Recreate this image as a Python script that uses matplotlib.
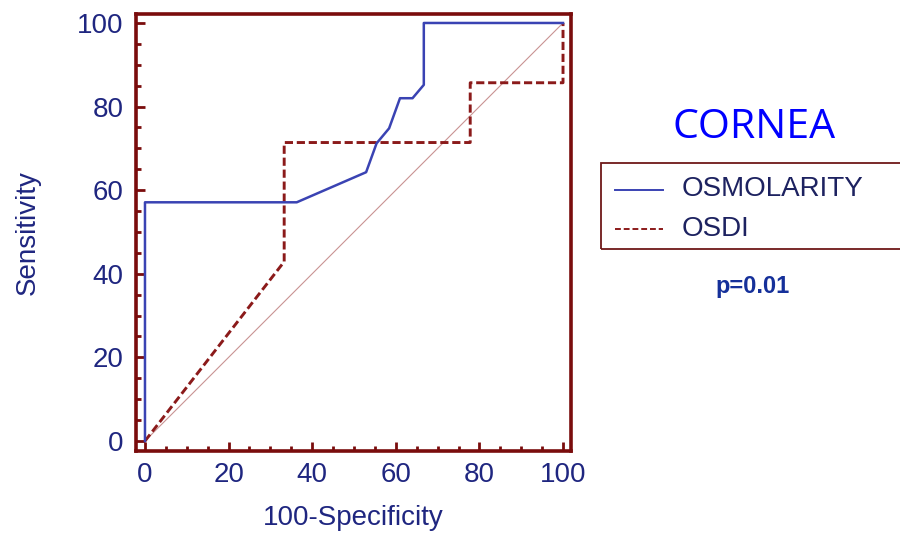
import matplotlib
matplotlib.use("Agg")
import matplotlib.pyplot as plt
from matplotlib.patches import Rectangle
from matplotlib.lines import Line2D

# ROC curve coordinates (100-Specificity, Sensitivity)
osm_fpr = [0, 0, 36.3, 52.9, 55.4, 58.4, 61.0, 64.0, 66.7, 66.7, 100]
osm_tpr = [0, 57.1, 57.1, 64.3, 71.2, 74.8, 82.0, 82.0, 85.2, 100, 100]

osdi_fpr = [0, 33.3, 33.3, 77.8, 77.8, 100, 100]
osdi_tpr = [0, 42.9, 71.4, 71.4, 85.7, 85.7, 100]

diag = [0, 100]

x_ticks = [0, 20, 40, 60, 80, 100]
y_ticks = [0, 20, 40, 60, 80, 100]

series_names = ["OSMOLARITY", "OSDI"]
panel_title = "CORNEA"
p_text = "p=0.01"

FRAME = "#7a0c0c"
BLUE = "#3a43b3"
RED = "#8b1a1a"
NAVY = "#1f2680"
FS = 20

plt.rcParams["font.family"] = ["Liberation Sans", "DejaVu Sans"]

fig = plt.figure(figsize=(9, 5.34), dpi=100)
ax = fig.add_axes([0.1511, 0.1554, 0.4833, 0.8184])

ax.plot(diag, diag, color="#c99393", lw=0.8, zorder=1)
ax.plot(osm_fpr, osm_tpr, color=BLUE, lw=1.8, zorder=3)
ax.plot(osdi_fpr, osdi_tpr, color=RED, lw=2.1, ls=(0, (2.8, 1.3)), zorder=2)

ax.set_xlim(-2.15, 101.9)
ax.set_ylim(-2.4, 102.15)
ax.set_xticks(x_ticks)
ax.set_yticks(y_ticks)
ax.set_xticks(range(0, 101, 5), minor=True)
ax.set_yticks(range(0, 101, 5), minor=True)
ax.tick_params(which="both", direction="in", color=FRAME, width=2.0,
               labelcolor=NAVY, labelsize=FS)
ax.tick_params(which="major", length=6.5)
ax.tick_params(which="minor", length=3.5)
ax.tick_params(axis="x", which="major", pad=8)
ax.tick_params(axis="y", which="major", pad=9)
for s in ax.spines.values():
    s.set_color(FRAME)
    s.set_linewidth(2.6)

ax.set_xlabel("100-Specificity", color=NAVY, fontsize=FS, labelpad=12)
ax.set_ylabel("Sensitivity", color=NAVY, fontsize=FS, labelpad=26)

# Title and legend panel on the right
fig.text(754 / 900, 1 - 128 / 534, panel_title, color="#0000ff",
         fontsize=29.6, family=["Open Sans", "DejaVu Sans"],
         ha="center", va="center")

box = Rectangle((601 / 900, 1 - 249 / 534), 320 / 900, 86 / 534,
                transform=fig.transFigure, fill=False, edgecolor="#6e1818",
                lw=1.3, clip_on=False)
fig.add_artist(box)

fig.add_artist(Line2D([615 / 900, 663 / 900], [1 - 190 / 534] * 2,
                      transform=fig.transFigure, color=BLUE, lw=1.4))
fig.add_artist(Line2D([615 / 900, 663 / 900], [1 - 229 / 534] * 2,
                      transform=fig.transFigure, color=RED, lw=1.4,
                      ls=(0, (3, 1.5))))
fig.text(682 / 900, 1 - 189.5 / 534, series_names[0], color="#1d2260",
         fontsize=FS, va="center", ha="left")
fig.text(682 / 900, 1 - 228.5 / 534, series_names[1], color="#1d2260",
         fontsize=FS, va="center", ha="left")

fig.text(753 / 900, 1 - 287 / 534, p_text, color="#15309a",
         fontsize=17, fontweight="bold", ha="center", va="center")

fig.savefig("out.png", dpi=100, facecolor="white")
